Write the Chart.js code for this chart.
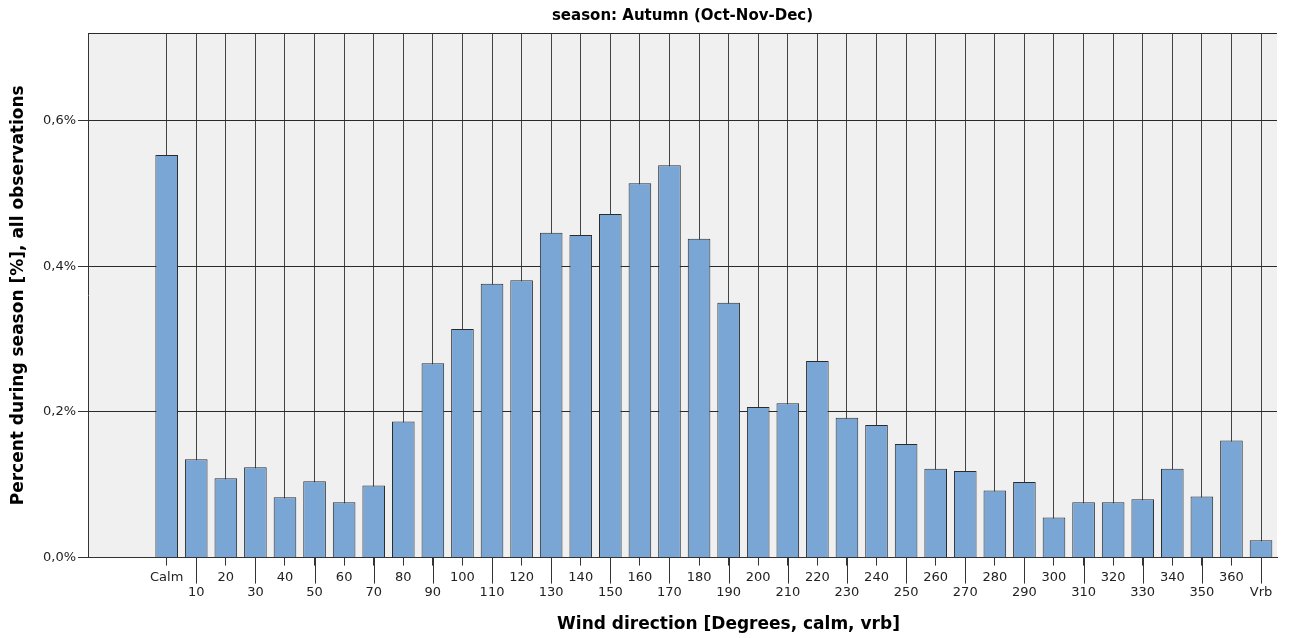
<!DOCTYPE html>
<html>
<head>
<meta charset="utf-8">
<script src="https://cdn.jsdelivr.net/npm/chart.js@4/dist/chart.umd.min.js"></script>
<style>
  body { margin: 0; background: #fff; }
  #wrap { width: 1295px; height: 638px; position: relative; }
</style>
</head>
<body>
<div id="wrap"><canvas id="windChart"></canvas></div>
<script>
// wind direction categories (x ticks)
const categories = ['Calm', '10', '20', '30', '40', '50', '60', '70', '80', '90',
  '100', '110', '120', '130', '140', '150', '160', '170', '180', '190',
  '200', '210', '220', '230', '240', '250', '260', '270', '280', '290',
  '300', '310', '320', '330', '340', '350', '360', 'Vrb'];

// percent of observations during the season
const percents = [0.553, 0.135, 0.109, 0.124, 0.083, 0.105, 0.076, 0.099, 0.187, 0.267,
  0.314, 0.376, 0.381, 0.446, 0.443, 0.472, 0.514, 0.539, 0.438, 0.350,
  0.207, 0.212, 0.270, 0.192, 0.182, 0.156, 0.122, 0.119, 0.092, 0.104,
  0.055, 0.076, 0.076, 0.080, 0.122, 0.084, 0.161, 0.024];

const yTicks = [0, 0.2, 0.4, 0.6];
const yMax = 0.7205;

const chartTitle = 'season: Autumn (Oct-Nov-Dec)';
const xTitle = 'Wind direction [Degrees, calm, vrb]';
const yTitle = 'Percent during season [%], all observations';

const tickFont = { family: 'DejaVu Sans', size: 13 };

// grey plot background, long ticks for the lower label row, x axis title
const extras = {
  id: 'extras',
  beforeDraw(chart) {
    const { ctx, chartArea: a } = chart;
    ctx.save();
    ctx.fillStyle = '#f0f0f0';
    ctx.fillRect(a.left, a.top, a.right - a.left, a.bottom - a.top);
    ctx.restore();
  },
  afterDraw(chart) {
    const { ctx, chartArea: a, scales } = chart;
    ctx.save();
    ctx.strokeStyle = '#333';
    ctx.lineWidth = 1;
    categories.forEach((c, i) => {
      if (i % 2 === 0) return;
      const px = Math.round(scales.x.getPixelForValue(i)) + 0.5;
      ctx.beginPath();
      ctx.moveTo(px, a.bottom);
      ctx.lineTo(px, a.bottom + 26);
      ctx.stroke();
    });
    ctx.font = 'bold 17px "DejaVu Sans"';
    ctx.fillStyle = '#000';
    ctx.textAlign = 'center';
    ctx.textBaseline = 'middle';
    ctx.fillText(xTitle, (a.left + a.right) / 2 + 46, 625);
    ctx.restore();
  }
};

new Chart(document.getElementById('windChart'), {
  type: 'bar',
  data: {
    datasets: [{
      data: percents.map((v, i) => ({ x: i, y: v })),
      backgroundColor: '#7aa6d6',
      borderColor: '#2b2b2b',
      borderWidth: 1,
      barPercentage: 0.765,
      categoryPercentage: 1
    }]
  },
  options: {
    responsive: true,
    maintainAspectRatio: false,
    animation: false,
    layout: { padding: { left: 0, right: 18, top: 0, bottom: 0 } },
    plugins: {
      legend: { display: false },
      tooltip: { enabled: false },
      title: {
        display: true,
        text: chartTitle,
        fullSize: false,
        color: '#000',
        font: { family: 'DejaVu Sans', size: 15, weight: 'bold' },
        padding: { top: 7, bottom: 8 }
      }
    },
    scales: {
      x: {
        type: 'linear',
        min: -2.66,
        max: 37.54,
        offset: false,
        afterBuildTicks: s => { s.ticks = categories.map((c, i) => ({ value: i })); },
        afterFit: s => { s.height = 80.4; },
        grid: { offset: false, color: '#444', tickLength: 8, tickColor: '#333' },
        border: { color: '#333' },
        ticks: {
          autoSkip: false,
          maxRotation: 0,
          padding: 4,
          color: '#222',
          font: tickFont,
          callback: v => (v % 2 ? ['', categories[v]] : categories[v])
        }
      },
      y: {
        min: 0,
        max: yMax,
        afterBuildTicks: s => { s.ticks = yTicks.concat(yMax).map(v => ({ value: v })); },
        afterFit: s => { s.width = 88; },
        grid: {
          color: '#2a2a2a',
          tickLength: 10,
          tickColor: c => (c.tick && c.tick.value === yMax ? 'rgba(0,0,0,0)' : '#333')
        },
        border: { color: '#333' },
        ticks: {
          padding: 2,
          color: '#222',
          font: tickFont,
          callback: v => (v === yMax ? '' : v.toFixed(1).replace('.', ',') + '%')
        },
        title: {
          display: true,
          text: yTitle,
          color: '#000',
          font: { family: 'DejaVu Sans', size: 17, weight: 'bold' },
          padding: { top: 8, bottom: 0 }
        }
      }
    }
  },
  plugins: [extras]
});
</script>
</body>
</html>
